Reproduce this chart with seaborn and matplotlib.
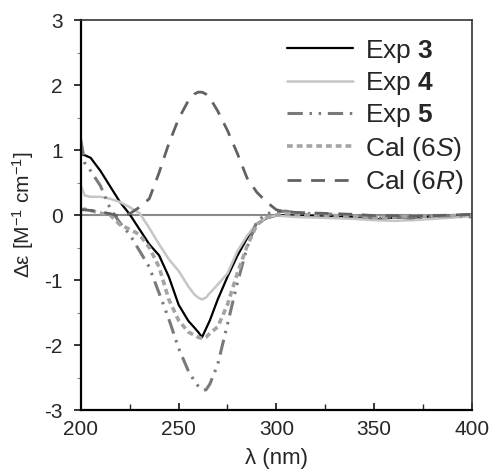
import numpy as np
import pandas as pd
import seaborn as sns
import matplotlib.pyplot as plt
from matplotlib.ticker import MultipleLocator

# 波长 (nm)
wl = [200, 202, 205, 210, 215, 220, 225, 230, 235, 240, 245, 250, 255, 258, 260, 262, 264, 266,
      270, 275, 280, 285, 290, 295, 300, 305, 310, 320, 330, 340, 350, 360, 370, 380, 390, 400]

exp3 = [0.93, 0.92, 0.88, 0.68, 0.44, 0.20, 0.01, -0.22, -0.45, -0.62, -0.95, -1.38, -1.63, -1.73,
        -1.80, -1.88, -1.75, -1.62, -1.30, -0.95, -0.63, -0.36, -0.13, -0.05, -0.01, 0.00, -0.01,
        -0.01, -0.02, -0.03, -0.07, -0.04, -0.04, -0.02, -0.01, 0.01]
exp4 = [0.45, 0.30, 0.28, 0.28, 0.25, 0.20, 0.12, 0.03, -0.20, -0.45, -0.68, -0.86, -1.10, -1.22,
        -1.27, -1.30, -1.27, -1.20, -1.07, -0.90, -0.56, -0.32, -0.13, -0.04, -0.01, -0.02, -0.03,
        -0.04, -0.05, -0.06, -0.08, -0.09, -0.08, -0.06, -0.04, -0.02]
exp5 = [1.15, 0.80, 0.68, 0.45, 0.10, -0.12, -0.30, -0.55, -0.80, -1.20, -1.60, -2.05, -2.40, -2.55,
        -2.63, -2.69, -2.69, -2.60, -2.30, -1.68, -1.05, -0.50, -0.10, 0.02, 0.05, 0.06, 0.03,
        0.02, 0.01, 0.00, -0.05, -0.03, -0.05, -0.02, -0.01, -0.03]
cal6s = [0.08, 0.09, 0.07, 0.03, 0.00, -0.15, -0.22, -0.30, -0.50, -0.80, -1.30, -1.62, -1.80, -1.85,
         -1.88, -1.90, -1.88, -1.82, -1.72, -1.38, -0.90, -0.48, -0.15, -0.04, 0.00, 0.02, 0.01,
         0.00, -0.01, -0.02, -0.04, -0.03, -0.02, -0.02, -0.01, 0.00]
cal6r = [0.08, 0.08, 0.07, 0.05, 0.02, -0.02, 0.02, 0.12, 0.25, 0.65, 1.10, 1.48, 1.76, 1.86,
         1.89, 1.89, 1.86, 1.80, 1.60, 1.30, 0.95, 0.57, 0.35, 0.20, 0.08, 0.05, 0.04,
         0.03, 0.02, 0.01, -0.01, -0.01, -0.02, -0.01, 0.00, 0.01]

labels = ["Exp $\\mathbf{3}$", "Exp $\\mathbf{4}$", "Exp $\\mathbf{5}$",
          "Cal (6$\\mathit{S}$)", "Cal (6$\\mathit{R}$)"]

sns.set_style("ticks")
plt.rcParams['font.family'] = ['Liberation Sans', 'DejaVu Sans']
plt.rcParams['mathtext.fontset'] = 'custom'
plt.rcParams['mathtext.rm'] = 'Liberation Sans'
plt.rcParams['mathtext.bf'] = 'Liberation Sans:bold'
plt.rcParams['mathtext.it'] = 'Liberation Sans:italic'
plt.rcParams['axes.unicode_minus'] = False

fig = plt.figure(figsize=(4.9, 4.71), dpi=100)
ax = fig.add_axes([0.165, 0.1295, 0.798, 0.828])

ax.axhline(0, color='#8a8a8a', lw=1.5, zorder=1)

styles = [
    dict(color='black', lw=1.6, linestyle='-'),
    dict(color='#c6c6c6', lw=1.8, linestyle='-'),
    dict(color='#7a7a7a', lw=2.2, linestyle=(0, (5, 2.2, 0.8, 2.2, 0.8, 2.2))),
    dict(color='#a4a4a4', lw=2.6, linestyle=(0, (1.6, 1.1))),
    dict(color='#626262', lw=2.0, linestyle=(0, (5, 3.5))),
]
series = [exp3, exp4, exp5, cal6s, cal6r]
for s, lab, st in zip(series, labels, styles):
    df = pd.DataFrame({'wl': wl, 'de': s})
    sns.lineplot(data=df, x='wl', y='de', ax=ax, label=lab, **st)

ax.set_xlim(200, 400)
ax.set_ylim(-3, 3)
ax.xaxis.set_major_locator(MultipleLocator(50))
ax.xaxis.set_minor_locator(MultipleLocator(25))
ax.yaxis.set_major_locator(MultipleLocator(1))
ax.yaxis.set_minor_locator(MultipleLocator(0.5))
ax.tick_params(axis='x', which='major', direction='in', length=5, width=1.3, labelsize=15, pad=7)
ax.tick_params(axis='x', which='minor', direction='in', length=4, width=1.0)
ax.tick_params(axis='y', which='major', direction='out', length=5, width=1.3, labelsize=15, pad=8)
ax.tick_params(axis='y', which='minor', direction='out', length=3, width=0.8, color='#888888')

for side in ['left', 'bottom']:
    ax.spines[side].set_linewidth(1.6)
    ax.spines[side].set_color('black')
for side in ['top', 'right']:
    ax.spines[side].set_linewidth(1.2)
    ax.spines[side].set_color('#333333')

ax.set_xlabel('λ (nm)', fontsize=16, labelpad=7)
ax.set_ylabel('Δε [M$^{-1}$ cm$^{-1}$]', fontsize=15, labelpad=6)

ax.legend(loc='upper right', bbox_to_anchor=(1.0, 0.975), frameon=False, fontsize=19,
          handlelength=2.5, labelspacing=0.2, handletextpad=0.45, borderaxespad=0.0,
          borderpad=0.3)

fig.savefig('out.png', dpi=100)
